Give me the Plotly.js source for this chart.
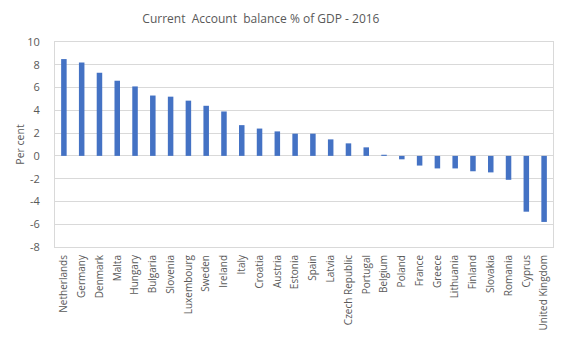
<!DOCTYPE html>
<html>
<head>
<meta charset="utf-8">
<script src="https://cdn.plot.ly/plotly-3.0.1.min.js"></script>
<style>html,body{margin:0;padding:0;background:#fff;}#chart{width:566px;height:340px;}</style>
</head>
<body>
<div id="chart"></div>
<script>
const countries = ["Netherlands","Germany","Denmark","Malta","Hungary","Bulgaria","Slovenia","Luxembourg","Sweden","Ireland","Italy","Croatia","Austria","Estonia","Spain","Latvia","Czech Republic","Portugal","Belgium","Poland","France","Greece","Lithuania","Finland","Slovakia","Romania","Cyprus","United Kingdom"];
const balance = [8.5,8.2,7.3,6.6,6.1,5.3,5.2,4.85,4.4,3.9,2.7,2.4,2.15,1.95,1.95,1.45,1.1,0.75,0.1,-0.3,-0.85,-1.1,-1.1,-1.35,-1.45,-2.1,-4.9,-5.8];
const yTicks = [-8,-6,-4,-2,0,2,4,6,8,10];

const font = "'Open Sans', 'Liberation Sans', sans-serif";
const grey = "#595959";

Plotly.newPlot("chart", [{
  type: "bar",
  x: countries,
  y: balance,
  marker: {color: "#4472C4"},
  hoverinfo: "x+y"
}], {
  width: 566, height: 340,
  margin: {l: 55, r: 13, t: 42, b: 93},
  paper_bgcolor: "#fff", plot_bgcolor: "#fff",
  bargap: 0.69,
  showlegend: false,
  title: {
    text: "Current  Account  balance % of GDP - 2016",
    font: {family: font, size: 12, color: grey},
    x: 0.461, xref: "container", xanchor: "center",
    y: 0.945, yref: "container", yanchor: "middle"
  },
  xaxis: {
    tickangle: -90,
    tickfont: {family: font, size: 10, color: grey},
    showline: true, mirror: true, linecolor: "#d9d9d9", linewidth: 1,
    showgrid: false, ticks: "", ticklabelstandoff: 3
  },
  yaxis: {
    range: [-8, 10],
    tickvals: yTicks,
    ticktext: yTicks.map(String),
    tickfont: {family: font, size: 11, color: grey},
    showgrid: true, gridcolor: "#d9d9d9", gridwidth: 1,
    zeroline: true, zerolinecolor: "#d9d9d9", zerolinewidth: 1,
    showline: true, mirror: true, linecolor: "#d9d9d9", linewidth: 1,
    ticks: "", ticklabelstandoff: 12,
    title: {text: "Per cent", font: {family: font, size: 10.5, color: grey}, standoff: 0}
  }
}, {displayModeBar: false, staticPlot: true});
</script>
</body>
</html>
